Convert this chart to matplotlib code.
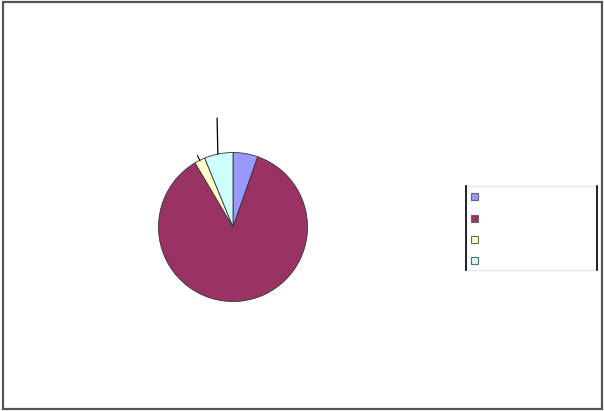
import matplotlib
matplotlib.use("Agg")
import matplotlib.pyplot as plt
from matplotlib.patches import Rectangle
import numpy as np

categories = ["", "", "", ""]
values = [5.4, 86.1, 2.3, 6.2]
colors = ["#9999FF", "#993366", "#FFFFCC", "#CCFFFF"]

W, H = 604, 411
fig = plt.figure(figsize=(W / 100, H / 100), dpi=100)
fig.patch.set_facecolor("white")

def fx(x):
    return x / W

def fy(y):
    return 1 - y / H

# outer border
fig.patches.append(Rectangle((fx(2.5), fy(408.5)), fx(599), 406 / H, transform=fig.transFigure,
                             fill=False, edgecolor="#555555", linewidth=1.6))

# pie axes
cx, cy, r = 233, 227, 74.5
ax = fig.add_axes([fx(cx - r), fy(cy + r), 2 * r / W, 2 * r / H])
ax.pie(values, colors=colors, startangle=90, counterclock=False, radius=1,
       wedgeprops=dict(edgecolor="#333333", linewidth=0.6))
ax.set_xlim(-1, 1)
ax.set_ylim(-1, 1)
ax.set_aspect("auto")
ax.axis("off")

cum = np.cumsum([0] + values)
# yellow slice leader
mid_y = 90 - (cum[2] + values[2] / 2) * 3.6
a = np.deg2rad(mid_y)
ax.plot([np.cos(a), np.cos(a) * 1.07], [np.sin(a), np.sin(a) * 1.07], color="black", lw=0.8, clip_on=False)
# cyan slice leader
mid_c = 90 - (cum[3] + values[3] / 2) * 3.6
a = np.deg2rad(mid_c)
ax.plot([np.cos(a) - 0.01, np.cos(a) - 0.02], [np.sin(a), 1.46], color="black", lw=0.9, clip_on=False)

# legend box
lx0, lx1, ly0, ly1 = 466, 597, 186, 270
fig.patches.append(Rectangle((fx(lx0), fy(ly1)), (lx1 - lx0) / W, (ly1 - ly0) / H,
                             transform=fig.transFigure, facecolor="white",
                             edgecolor="#e8e8e8", linewidth=1.0))
fig.lines.append(plt.Line2D([fx(lx0), fx(lx0)], [fy(ly0), fy(ly1)], transform=fig.transFigure,
                            color="black", lw=1.2))
fig.lines.append(plt.Line2D([fx(lx1), fx(lx1)], [fy(ly0), fy(ly1)], transform=fig.transFigure,
                            color="black", lw=1.2))
ys = [197, 218.5, 239.5, 260.5]
for c, yy, lab in zip(colors, ys, categories):
    s = 7
    fig.patches.append(Rectangle((fx(471), fy(yy + s / 2)), s / W, s / H, transform=fig.transFigure,
                                 facecolor=c, edgecolor="#666666", linewidth=0.8))
    fig.text(fx(484), fy(yy), lab, va="center", ha="left", fontsize=8)

fig.savefig("out.png", dpi=100, facecolor="white")
